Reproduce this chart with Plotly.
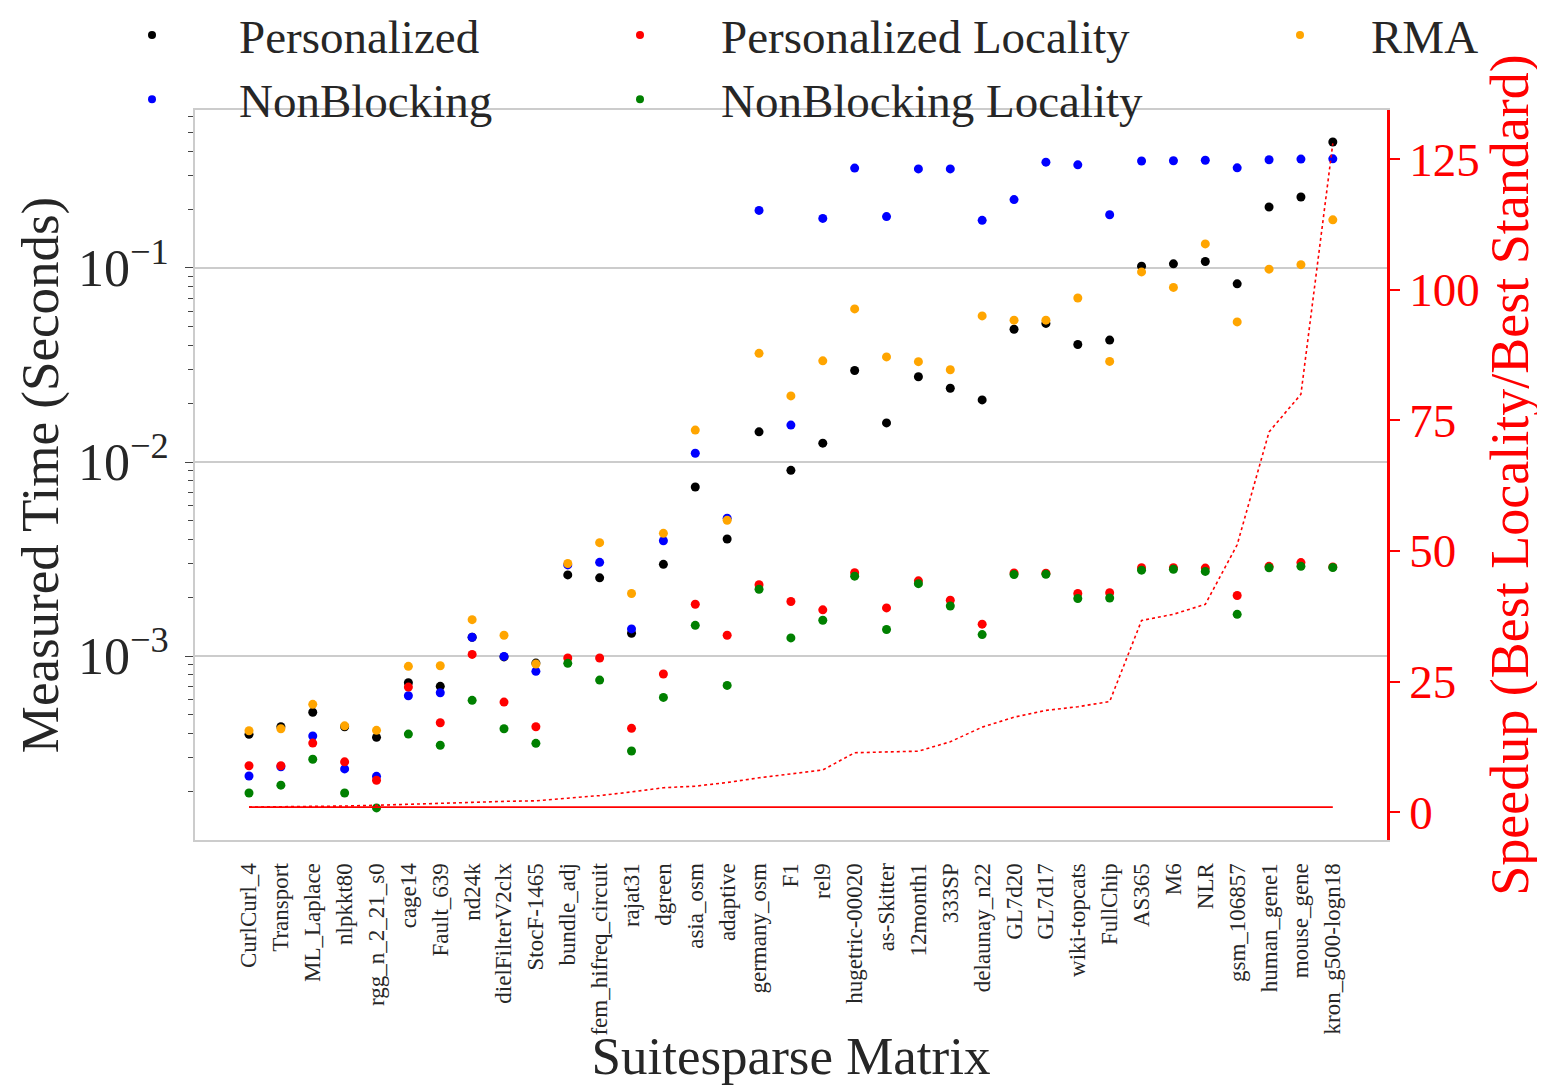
import plotly.graph_objects as go

matrices = ["CurlCurl_4", "Transport", "ML_Laplace", "nlpkkt80", "rgg_n_2_21_s0", "cage14",
            "Fault_639", "nd24k", "dielFilterV2clx", "StocF-1465", "bundle_adj",
            "fem_hifreq_circuit", "rajat31", "dgreen", "asia_osm", "adaptive", "germany_osm",
            "F1", "rel9", "hugetric-00020", "as-Skitter", "12month1", "333SP", "delaunay_n22",
            "GL7d20", "GL7d17", "wiki-topcats", "FullChip", "AS365", "M6", "NLR", "gsm_106857",
            "human_gene1", "mouse_gene", "kron_g500-logn18"]

personalized = [3.95e-4, 4.32e-4, 5.13e-4, 4.32e-4, 3.81e-4, 7.28e-4, 6.98e-4, 1.25e-3, 9.9e-4,
                9.2e-4, 2.62e-3, 2.53e-3, 1.31e-3, 2.97e-3, 7.43e-3, 4.01e-3, 1.43e-2, 9.06e-3,
                1.25e-2, 2.96e-2, 1.59e-2, 2.75e-2, 2.40e-2, 2.09e-2, 4.83e-2, 5.18e-2, 4.03e-2,
                4.25e-2, 1.02e-1, 1.05e-1, 1.08e-1, 8.28e-2, 2.06e-1, 2.32e-1, 4.46e-1]

nonblocking = [2.41e-4, 2.69e-4, 3.87e-4, 2.62e-4, 2.40e-4, 6.24e-4, 6.47e-4, 1.25e-3, 9.96e-4,
               8.34e-4, 2.95e-3, 3.04e-3, 1.38e-3, 3.93e-3, 1.11e-2, 5.13e-3, 1.98e-1, 1.55e-2,
               1.80e-1, 3.27e-1, 1.84e-1, 3.24e-1, 3.24e-1, 1.76e-1, 2.25e-1, 3.51e-1, 3.40e-1,
               1.88e-1, 3.56e-1, 3.57e-1, 3.59e-1, 3.28e-1, 3.61e-1, 3.64e-1, 3.65e-1]

personalized_locality = [2.72e-4, 2.72e-4, 3.56e-4, 2.85e-4, 2.29e-4, 6.92e-4, 4.53e-4, 1.02e-3,
                         5.79e-4, 4.32e-4, 9.77e-4, 9.77e-4, 4.24e-4, 8.08e-4, 1.85e-3, 1.28e-3,
                         2.33e-3, 1.91e-3, 1.73e-3, 2.69e-3, 1.77e-3, 2.44e-3, 1.94e-3, 1.46e-3,
                         2.68e-3, 2.67e-3, 2.10e-3, 2.12e-3, 2.85e-3, 2.85e-3, 2.84e-3, 2.05e-3,
                         2.90e-3, 3.03e-3, 2.88e-3]

nonblocking_locality = [1.97e-4, 2.16e-4, 2.94e-4, 1.97e-4, 1.65e-4, 3.96e-4, 3.47e-4, 5.91e-4,
                        4.22e-4, 3.55e-4, 9.17e-4, 7.52e-4, 3.24e-4, 6.12e-4, 1.44e-3, 7.06e-4,
                        2.21e-3, 1.24e-3, 1.53e-3, 2.58e-3, 1.37e-3, 2.36e-3, 1.81e-3, 1.29e-3,
                        2.63e-3, 2.64e-3, 1.98e-3, 1.99e-3, 2.77e-3, 2.80e-3, 2.73e-3, 1.64e-3,
                        2.85e-3, 2.90e-3, 2.86e-3]

rma = [4.12e-4, 4.22e-4, 5.64e-4, 4.37e-4, 4.14e-4, 8.85e-4, 8.91e-4, 1.54e-3, 1.28e-3, 9.1e-4,
       3.0e-3, 3.84e-3, 2.10e-3, 4.29e-3, 1.46e-2, 5.01e-3, 3.63e-2, 2.19e-2, 3.32e-2, 6.15e-2,
       3.48e-2, 3.29e-2, 2.99e-2, 5.66e-2, 5.38e-2, 5.38e-2, 7.0e-2, 3.30e-2, 9.54e-2, 7.94e-2,
       1.33e-1, 5.27e-2, 9.86e-2, 1.04e-1, 1.77e-1]

speedup = [1.0, 1.05, 1.1, 1.2, 1.35, 1.5, 1.7, 1.9, 2.1, 2.2, 2.7, 3.2, 3.9, 4.7, 5.0, 5.7, 6.6,
           7.3, 8.1, 11.4, 11.5, 11.7, 13.5, 16.3, 18.2, 19.5, 20.2, 21.2, 36.7, 37.9, 39.8, 51.2,
           72.8, 80.0, 128.0]

baseline = [1.0] * len(matrices)

y_tick_vals = [1e-3, 1e-2, 1e-1]
y_tick_text = ["10<sup>\u22123</sup>", "10<sup>\u22122</sup>", "10<sup>\u22121</sup>"]
y2_tick_vals = [0, 25, 50, 75, 100, 125]

FONT = "Liberation Serif"
TXT = "#262626"
GRID = "#cccccc"

# page has an 8px body margin: the figure is shrunk so the plot area lands where intended
OFF = 8
W, H = 1545 - OFF, 1085 - OFF
# plot-area geometry in page pixels
PL, PR, PT, PB = 195, 1387, 110, 840


def px_x(px):
    return (px - PL) / (PR - PL)


def px_y(py):
    return (PB - py) / (PB - PT)


x = list(range(len(matrices)))

series = [
    ("Personalized", personalized, "black", "legend"),
    ("NonBlocking", nonblocking, "blue", "legend"),
    ("Personalized Locality", personalized_locality, "red", "legend2"),
    ("NonBlocking Locality", nonblocking_locality, "green", "legend2"),
    ("RMA", rma, "orange", "legend3"),
]

fig = go.Figure()
for name, vals, col, lg in series:
    fig.add_trace(go.Scatter(x=x, y=vals, mode="markers", name=name,
                             marker=dict(color=col, size=9, line=dict(width=0)),
                             showlegend=False, yaxis="y"))

fig.add_trace(go.Scatter(x=x, y=speedup, mode="lines", yaxis="y2", showlegend=False,
                         line=dict(color="red", width=1.6, dash="dot")))
fig.add_trace(go.Scatter(x=x, y=baseline, mode="lines", yaxis="y2", showlegend=False,
                         line=dict(color="red", width=1.6)))

# legend-only entries with small markers (matplotlib style)
for name, vals, col, lg in series:
    fig.add_trace(go.Scatter(x=[None], y=[None], mode="markers", name=name,
                             marker=dict(color=col, size=8), legend=lg,
                             legendgroup=name, showlegend=True))

minor_vals = [k * 10.0 ** e for e in range(-4, 0) for k in range(2, 10)]

leg_common = dict(font=dict(family=FONT, size=47, color=TXT), bgcolor="rgba(0,0,0,0)",
                  orientation="v", xref="paper", yref="paper", yanchor="top",
                  xanchor="left", tracegroupgap=0, itemclick=False)

LEG_TOP = -2  # page pixel of the legend boxes' top edge

fig.update_layout(
    width=W, height=H,
    margin=dict(l=PL - OFF, r=W - (PR - OFF), t=PT - OFF, b=H - (PB - OFF), autoexpand=False),
    paper_bgcolor="white", plot_bgcolor="white",
    font=dict(family=FONT, color=TXT),
    legend=dict(x=px_x(65), y=px_y(LEG_TOP), itemwidth=164, **leg_common),
    legend2=dict(x=px_x(559), y=px_y(LEG_TOP), itemwidth=152, **leg_common),
    legend3=dict(x=px_x(1229), y=px_y(LEG_TOP), itemwidth=132, **leg_common),
    xaxis=dict(range=[-1.694, 35.70], tickmode="array", tickvals=x, ticktext=matrices,
               tickangle=-90, tickfont=dict(family=FONT, size=23, color=TXT),
               showgrid=False, zeroline=False, showline=True, linecolor=GRID, linewidth=2,
               mirror=True, ticks="", ticklen=0, automargin=False, ticklabelstandoff=12,
               title=dict(text="Suitesparse Matrix", font=dict(family=FONT, size=53, color=TXT),
                          standoff=0)),
    yaxis=dict(type="log", range=[-3.948, -0.186], tickmode="array", tickvals=y_tick_vals,
               ticktext=y_tick_text, tickfont=dict(family=FONT, size=52, color=TXT),
               showgrid=True, gridcolor=GRID, gridwidth=1.5, zeroline=False,
               showline=True, linecolor=GRID, linewidth=2, ticks="outside", ticklen=8,
               tickcolor="#444444", tickwidth=1.2, automargin=False, ticklabelstandoff=6,
               minor=dict(tickmode="array", tickvals=minor_vals, ticks="outside", ticklen=5,
                          tickcolor="#444444", tickwidth=1, showgrid=False),
               title=dict(text="Measured Time (Seconds)", font=dict(family=FONT, size=53, color=TXT),
                          standoff=2)),
    yaxis2=dict(overlaying="y", side="right", range=[-5.30, 134.4], tickmode="array",
                tickvals=y2_tick_vals, tickfont=dict(family=FONT, size=47, color="red"),
                showgrid=False, zeroline=False, showline=True, linecolor="red", linewidth=2.5,
                ticks="outside", ticklen=10, tickcolor="red", tickwidth=2, automargin=False,
                title=dict(text="Speedup (Best Locality/Best Standard)",
                           font=dict(family=FONT, size=54, color="red"), standoff=10)),
)

fig.write_html("out.html")
